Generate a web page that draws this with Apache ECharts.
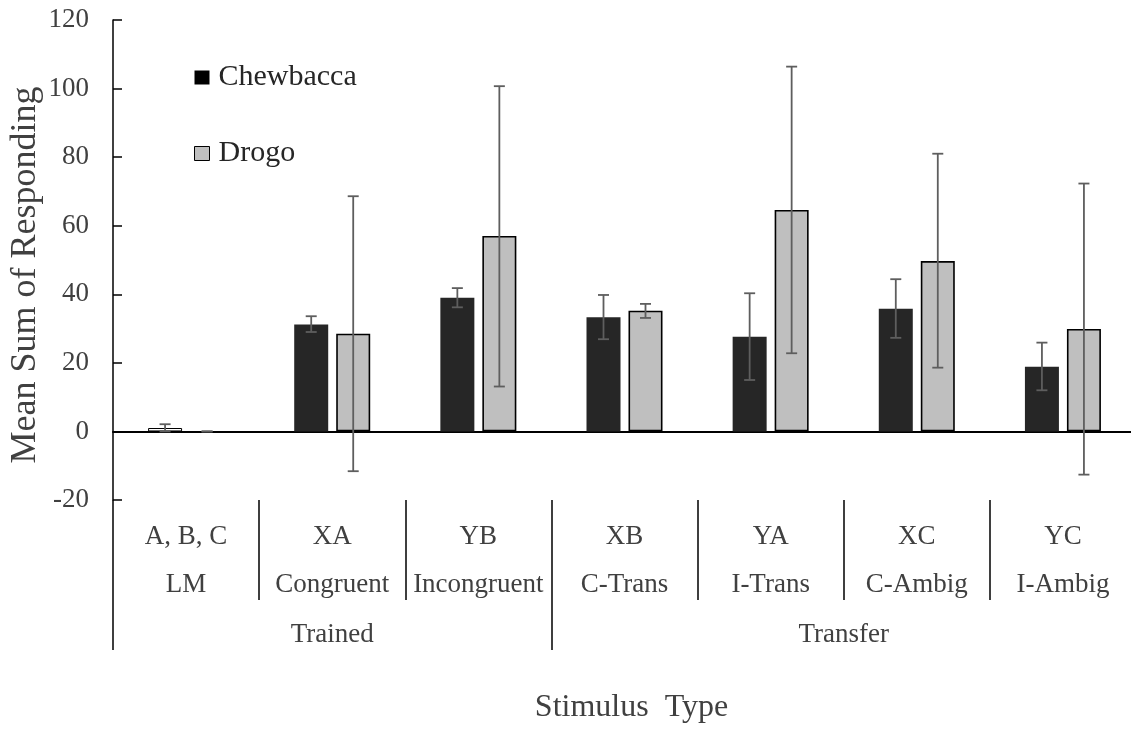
<!DOCTYPE html>
<html>
<head>
<meta charset="utf-8">
<title>Mean Sum of Responding by Stimulus Type</title>
<script src="https://cdn.jsdelivr.net/npm/echarts@6/dist/echarts.min.js"></script>
<style>
  html, body { margin: 0; padding: 0; background: #fff; }
  #chart { width: 1131px; height: 729px; }
</style>
</head>
<body>
<div id="chart"></div>
<script>
// Stimulus codes (first label row) and stimulus names (second label row)
const stimulusCodes = ['A, B, C', 'XA', 'YB', 'XB', 'YA', 'XC', 'YC'];
const stimulusNames = ['LM', 'Congruent', 'Incongruent', 'C-Trans', 'I-Trans', 'C-Ambig', 'I-Ambig'];

// Outer grouping of the stimuli
const groupNames = ['Trained', 'Transfer'];
const groupSizes = [3, 4];

// Mean sum of responding with error-bar limits
const chewbacca     = [1.0, 31.2, 39.0, 33.3, 27.6, 35.8, 18.9];
const chewbaccaLow  = [0.0, 29.0, 36.2, 26.9, 15.0, 27.3, 12.0];
const chewbaccaHigh = [2.1, 33.6, 41.8, 39.8, 40.3, 44.4, 25.9];

const drogo     = [0.0, 28.5, 57.0, 35.2, 64.6, 49.7, 29.9];
const drogoLow  = [0.0, -11.6, 13.1, 33.1, 22.8, 18.6, -12.6];
const drogoHigh = [0.0, 68.6, 100.7, 37.2, 106.4, 81.0, 72.3];

// Y axis ticks
const yMin = -20, yMax = 120, yStep = 20;

const FONT = "'Liberation Serif', 'Times New Roman', serif";
const TEXT_COLOR = '#404040';
const BAR_W = 34;
const BAR_GAP = 8;
const HALF_PAIR = (BAR_W + BAR_GAP) / 2;
const CAP = 11;

const GRID = { left: 113, top: 20, width: 1023, height: 480, outerBoundsMode: 'none', containLabel: false };

// group boundaries / centres on a 0..n value scale matching the category axis
const groupEdges = [0];
groupSizes.forEach(s => groupEdges.push(groupEdges[groupEdges.length - 1] + s));
const groupCenters = groupSizes.map((s, i) => groupEdges[i] + s / 2);

function errorBars(low, high, offset) {
  return {
    type: 'custom',
    xAxisIndex: 0,
    yAxisIndex: 0,
    z: 5,
    silent: true,
    data: low.map((l, i) => [i, l, high[i]]),
    encode: { x: 0, y: [1, 2] },
    renderItem(params, api) {
      const i = api.value(0);
      const x = api.coord([i, 0])[0] + offset;
      const yLo = api.coord([i, api.value(1)])[1];
      const yHi = api.coord([i, api.value(2)])[1];
      const style = { stroke: '#5e5e5e', lineWidth: 1.8 };
      return {
        type: 'group',
        children: [
          { type: 'line', shape: { x1: x, y1: yLo, x2: x, y2: yHi }, style },
          { type: 'line', shape: { x1: x - CAP / 2, y1: yHi, x2: x + CAP / 2, y2: yHi }, style },
          { type: 'line', shape: { x1: x - CAP / 2, y1: yLo, x2: x + CAP / 2, y2: yLo }, style }
        ]
      };
    }
  };
}

const chart = echarts.init(document.getElementById('chart'), null, { renderer: 'canvas' });

const option = {
  animation: false,
  backgroundColor: '#fff',
  textStyle: { fontFamily: FONT },
  grid: [
    Object.assign({}, GRID),
    Object.assign({}, GRID),
    Object.assign({}, GRID)
  ],
  legend: {
    orient: 'vertical',
    left: 194,
    top: 62,
    padding: 0,
    itemWidth: 15,
    itemHeight: 14,
    itemGap: 45,
    icon: 'rect',
    textStyle: { fontFamily: FONT, fontSize: 30, color: '#262626', lineHeight: 31, padding: [0, 0, 0, 4] },
    data: [
      { name: 'Chewbacca', itemStyle: { color: '#000', borderWidth: 0 } },
      { name: 'Drogo', itemStyle: { color: '#bfbfbf', borderColor: '#000', borderWidth: 1 } }
    ]
  },
  // vertical axis title
  graphic: [
    {
      type: 'text',
      x: 26,
      y: 275,
      rotation: Math.PI / 2,
      style: {
        text: 'Mean Sum of Responding',
        fontFamily: FONT,
        fontSize: 36,
        fill: TEXT_COLOR,
        align: 'center',
        verticalAlign: 'middle'
      }
    }
  ],
  xAxis: [
    {
      // axis of the bars; its line is the zero line
      type: 'category',
      gridIndex: 0,
      data: stimulusCodes,
      boundaryGap: true,
      axisLine: { onZero: true, lineStyle: { color: '#000', width: 2 } },
      axisTick: { show: false },
      axisLabel: { show: false }
    },
    {
      // stimulus code / name rows with separators
      type: 'category',
      gridIndex: 1,
      position: 'bottom',
      data: stimulusCodes,
      boundaryGap: true,
      axisLine: { show: false, onZero: false },
      axisTick: { show: true, interval: 0, length: 100, lineStyle: { color: '#000', width: 1.5 } },
      axisLabel: {
        interval: 0,
        margin: 13,
        formatter: (value, idx) => '{a|' + value + '}\n{a|' + stimulusNames[idx] + '}',
        rich: { a: { fontFamily: FONT, fontSize: 27, color: TEXT_COLOR, lineHeight: 48 } }
      }
    },
    {
      // Trained / Transfer grouping
      type: 'value',
      gridIndex: 2,
      position: 'bottom',
      min: 0,
      max: stimulusCodes.length,
      axisLine: { show: false, onZero: false },
      splitLine: { show: false },
      axisTick: {
        show: true,
        customValues: groupEdges,
        length: 150,
        lineStyle: { color: '#000', width: 1.5 }
      },
      axisLabel: {
        customValues: groupCenters,
        margin: 121,
        fontFamily: FONT,
        fontSize: 27,
        color: TEXT_COLOR,
        formatter: v => groupNames[groupCenters.indexOf(v)] || ''
      },
      name: 'Stimulus  Type',
      nameLocation: 'middle',
      nameGap: 192,
      nameTextStyle: { fontFamily: FONT, fontSize: 32, color: TEXT_COLOR, padding: [0, 0, 0, 14] }
    }
  ],
  yAxis: [
    {
      type: 'value',
      gridIndex: 0,
      min: yMin,
      max: yMax,
      interval: yStep,
      axisLine: { show: true, lineStyle: { color: '#000', width: 1.5 } },
      axisTick: { show: true, inside: true, length: 9, lineStyle: { color: '#000', width: 1.5 } },
      splitLine: { show: false },
      axisLabel: { margin: 24, fontFamily: FONT, fontSize: 27, color: TEXT_COLOR }
    },
    { type: 'value', gridIndex: 1, show: false, min: yMin, max: yMax },
    { type: 'value', gridIndex: 2, show: false, min: yMin, max: yMax }
  ],
  series: [
    {
      name: 'Chewbacca',
      type: 'bar',
      xAxisIndex: 0,
      yAxisIndex: 0,
      barWidth: BAR_W,
      barGap: (BAR_GAP / BAR_W * 100) + '%',
      itemStyle: { color: '#262626' },
      data: chewbacca.map((v, i) => i === 0
        ? { value: v, itemStyle: { color: '#fff', borderColor: '#000', borderWidth: 1 } }
        : v)
    },
    {
      name: 'Drogo',
      type: 'bar',
      xAxisIndex: 0,
      yAxisIndex: 0,
      barWidth: BAR_W,
      itemStyle: { color: '#bfbfbf', borderColor: '#000', borderWidth: 1.6 },
      data: drogo.map(v => v === 0 ? { value: v, itemStyle: { borderWidth: 0 } } : v)
    },
    errorBars(chewbaccaLow, chewbaccaHigh, -HALF_PAIR),
    errorBars(drogoLow, drogoHigh, HALF_PAIR)
  ]
};

chart.setOption(option);
</script>
</body>
</html>
